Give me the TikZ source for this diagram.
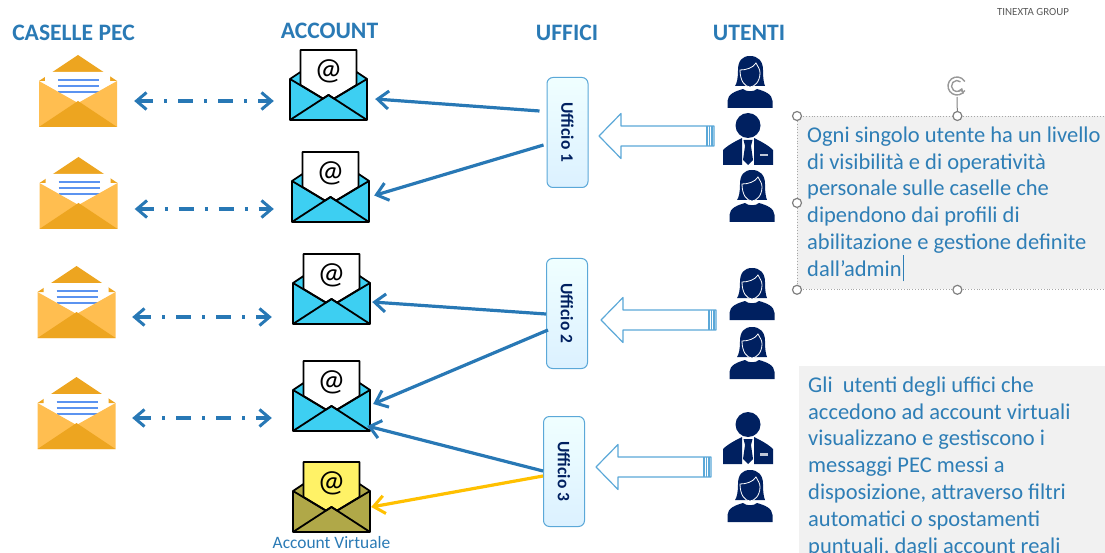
\documentclass[tikz,border=0pt]{standalone}
\usepackage{fontspec}
\setmainfont{Carlito}
\usetikzlibrary{arrows.meta}

\definecolor{titolo}{HTML}{2A7AB5}
\definecolor{testo}{HTML}{2E7EB6}
\definecolor{linea}{HTML}{2878B5}
\definecolor{giallo}{HTML}{FFC000}
\definecolor{navy}{HTML}{002060}
\definecolor{chiaro}{HTML}{FFBE50}
\definecolor{scuro}{HTML}{EDA520}
\definecolor{righe}{HTML}{5B93F0}
\definecolor{azzurro}{HTML}{3DCFF2}
\definecolor{oliva}{HTML}{B0A848}
\definecolor{carta}{HTML}{FFF266}
\definecolor{grigio}{HTML}{F1F1F1}
\definecolor{bordo}{HTML}{5BA8D8}

\tikzset{
  titlelabel/.style={text=titolo,font=\bfseries\fontsize{23.6}{26}\selectfont,inner sep=0pt},
  ufficiobox/.style={draw=bordo,line width=1pt,rounded corners=6pt,top color=blue!2!cyan!6,bottom color=cyan!60!blue!14,
    minimum width=41pt,minimum height=110pt,inner sep=0pt,text=navy,font=\bfseries\fontsize{17.5}{19}\selectfont},
  notebox/.style={fill=grigio,anchor=north west,inner sep=0pt},
  notetext/.style={anchor=north west,align=left,inner xsep=0pt,inner ysep=10.5pt,text=testo,
    font=\fontsize{22.5}{26.8}\selectfont},
  handle/.style={circle,draw=gray,fill=white,line width=1.2pt,minimum size=9pt,inner sep=0pt},
  linkarrow/.style={draw=linea,line width=3.2pt,-{Straight Barb[length=11pt,width=18pt,line width=3pt]}},
  syncarrow/.style={draw=linea,line width=3.4pt,{Straight Barb[length=10pt,width=17pt,line width=3pt]}-{Straight Barb[length=10pt,width=17pt,line width=3pt]},
    dash pattern=on 15pt off 11pt on 3pt off 11pt},
  % busta arancione
  pics/casella/.style={code={
    \node[minimum width=78pt,minimum height=72pt,inner sep=0pt] (-box) at (0,36) {};
    \fill[scuro] (-39,26) -- (0,0) -- (39,26) -- cycle;
    \fill[white] (-33,17) -- (32,17) -- (32,30) -- (0,48) -- (-33,30) -- cycle;
    \foreach \r in {25,31,37}
      \draw[righe,line width=1.4pt] (-20,\r) -- (21,\r);
    \fill[chiaro] (-39,26) -- (0,48) -- (39,26) -- (39,72) -- (-39,72) -- cycle;
    \fill[scuro] (-39,72) -- (0,46) -- (39,72) -- cycle;
  }},
  % busta con la chiocciola
  pics/account/.style 2 args={code={
    \node[minimum width=77pt,minimum height=71pt,inner sep=0pt] (-box) at (0,35.5) {};
    \begin{scope}[draw=black,line width=1.8pt,line join=round]
      \filldraw[fill=#1] (-38.5,70) -- (-38.5,29) -- (-28,22) -- (28,22) -- (38.5,29) -- (38.5,70) -- cycle;
      \filldraw[fill=#2] (-28,0) -- (28,0) -- (28,35) -- (5.6,48.6) -- (0,45) -- (-5.6,48.6) -- (-28,35) -- cycle;
      \draw (-38.5,29) -- (-5.6,48.6);
      \draw (38.5,29) -- (5.6,48.6);
      \draw (-38.5,70) -- (0,45) -- (38.5,70);
    \end{scope}
    \node[inner sep=0pt,font=\fontsize{31}{31}\selectfont] (-at) at (0,21) {@};
  }},
  % utente donna
  pics/donna/.style={code={
    \fill[navy] (0,0) .. controls (-8,0) and (-12,5) .. (-12,14) .. controls (-12,22) and (-13,27) .. (-15,30)
      -- (15,30) .. controls (14,27) and (13,24) .. (13,14) .. controls (13,5) and (8,0) .. (0,0) -- cycle;
    \filldraw[draw=white,fill=navy,line width=.8pt] (-10,14) .. controls (-4,14) and (3,12) .. (6,7)
      .. controls (8,11) and (10,13) .. (10,17) .. controls (10,26) and (4,31) .. (0,31)
      .. controls (-5,31) and (-10,25) .. (-10,14) -- cycle;
    \fill[navy] (-22.5,52) -- (-22.5,45) .. controls (-22.5,38) and (-14,35) .. (-7,33)
      .. controls (-4,36) and (4,36) .. (7,33) .. controls (14,35) and (22.5,38) .. (22.5,45) -- (22.5,52) -- cycle;
  }},
  % utente uomo
  pics/uomo/.style={code={
    \fill[navy] (0,12.5) circle (12.5);
    \fill[navy] (-25,52) -- (-25,37) .. controls (-20,32) and (-12,28) .. (-6,25) -- (-6,52) -- cycle;
    \fill[navy] (25,52) -- (25,37) .. controls (20,32) and (12,28) .. (6,25) -- (6,52) -- cycle;
    \fill[navy] (-4.5,27) -- (4.5,27) -- (3,33) -- (5,47) -- (0,52) -- (-5,47) -- (-3,33) -- cycle;
    \fill[white!75!navy] (12,41) rectangle (20,43.5);
  }},
  % freccia grande vuota
  pics/freccia/.style={code={
    \filldraw[draw=bordo,fill=white,line width=1.2pt,line join=round]
      (0,0) -- (22,-22.5) -- (22,-10) -- (115,-10) -- (115,10) -- (22,10) -- (22,22.5) -- cycle;
    \foreach \s in {108,110.5,113}
      \draw[bordo,line width=1.2pt] (\s,-10) -- (\s,10);
  }},
}

\begin{document}
\begin{tikzpicture}[x=1pt,y=-1pt]
  \useasboundingbox (0,0) rectangle (1105,553);
  \clip (0,0) rectangle (1105,553);

  % titoli
  \node[titlelabel] (ticas) at (73.5,33) {CASELLE PEC};
  \node[titlelabel] (tiacc) at (329.5,31) {ACCOUNT};
  \node[titlelabel] (tiuff) at (567,33) {UFFICI};
  \node[titlelabel] (tiute) at (749,33) {UTENTI};
  \node[text=black!65,font=\fontsize{10.9}{12}\selectfont,inner sep=0pt] (tinexta) at (1033,12) {TINEXTA GROUP};

  % caselle, account e frecce tratteggiate
  \foreach \n/\cx/\cy/\ax/\ay/\sx/\sd/\ex/\ed in {1/78/55/328.5/50/17/10/-16/15.5,
      2/78.5/157/330.5/152/17/16/-18/21.5,
      3/76.5/266/331.5/254/16.5/15/-21/27.5,
      4/76.5/377/331.5/361/16.5/5/-21/21.5} {
    \pic (cas\n) at (\cx,\cy) {casella};
    \pic (acc\n) at (\ax,\ay) {account={azzurro}{white}};
    \draw[syncarrow] ([shift={(\sx,\sd)}]cas\n-box.east) -- ([shift={(\ex,\ed)}]acc\n-box.west);
  }

  % account virtuale
  \pic (accv) at (331.5,462) {account={oliva}{carta}};
  \node[text=titolo,font=\fontsize{17.4}{19}\selectfont,inner sep=0pt] (labv) at (331.5,543) {Account Virtuale};

  % frecce tra uffici e account
  \node[ufficiobox] (uff1) at (567.5,132.5) {\rotatebox{-90}{Ufficio 1}};
  \node[ufficiobox] (uff2) at (567,313.5) {\rotatebox{-90}{Ufficio 2}};
  \node[ufficiobox] (uff3) at (564,471.5) {\rotatebox{-90}{Ufficio 3}};

  \draw[linkarrow] ([shift={(-7,-21.5)}]uff1.west) -- ([shift={(8,13.5)}]acc1-box.east);
  \draw[linkarrow] ([shift={(-3,12.5)}]uff1.west) -- ([shift={(5,8)}]acc2-box.east);
  \draw[linkarrow] ([shift={(0,0.5)}]uff2.west) -- ([shift={(2,12.5)}]acc3-box.east);
  \draw[linkarrow] ([shift={(2,16.5)}]uff2.west) -- ([shift={(3,7.5)}]acc4-box.east);
  \draw[linkarrow] ([shift={(0,-0.5)}]uff3.west) -- ([shift={(-3,29.5)}]acc4-box.east);
  \draw[linkarrow,draw=giallo] ([shift={(0,4.5)}]uff3.west) -- ([shift={(1,9.5)}]accv-box.east);

  % frecce grandi verso gli uffici
  \pic (fre1) at (599,136) {freccia};
  \pic (fre2) at (601,320) {freccia};
  \pic (fre3) at (596,467) {freccia};

  % utenti
  \foreach \n/\x/\y in {1/750/56,2/752/170,3/752/268,4/752/327,5/750/470}
    \pic (don\n) at (\x,\y) {donna};
  \foreach \n/\x/\y in {1/748/113,2/748/412}
    \pic (uom\n) at (\x,\y) {uomo};

  % testo selezionato
  \node[notebox,draw=gray!70,dotted,line width=.8pt,minimum width=320pt,minimum height=173pt] (box1) at (797,116) {};
  \node[notetext] (note1) at (807,116)
    {Ogni singolo utente ha un livello\\
     di visibilità e di operatività\\
     personale sulle caselle che\\
     dipendono dai profili di\\
     abilitazione e gestione definite\\
     dall’admin\kern1pt\rule[-5pt]{.8pt}{26pt}};

  % maniglie di selezione
  \coordinate (rot) at (957,97);
  \draw[gray,line width=1pt] (box1.north) -- (rot);
  \foreach \a in {north west,north,west,south west,south}
    \node[handle] (h-\a) at (box1.\a) {};
  \draw[gray!80,line width=1.4pt] (957,86) ++(30:9) arc (30:330:9);
  \draw[gray!80,line width=1.4pt,-{Stealth[length=5pt,width=7pt]}] (957,86) ++(-50:5.5) arc (-50:-340:5.5);

  % secondo testo
  \node[notebox,minimum width=306pt,minimum height=187pt] (box2) at (799,366) {};
  \node[notetext] (note2) at (808,366)
    {Gli\ \ utenti degli uffici che\\
     accedono ad account virtuali\\
     visualizzano e gestiscono i\\
     messaggi PEC messi a\\
     disposizione, attraverso filtri\\
     automatici o spostamenti\\
     puntuali, dagli account reali};
\end{tikzpicture}
\end{document}
